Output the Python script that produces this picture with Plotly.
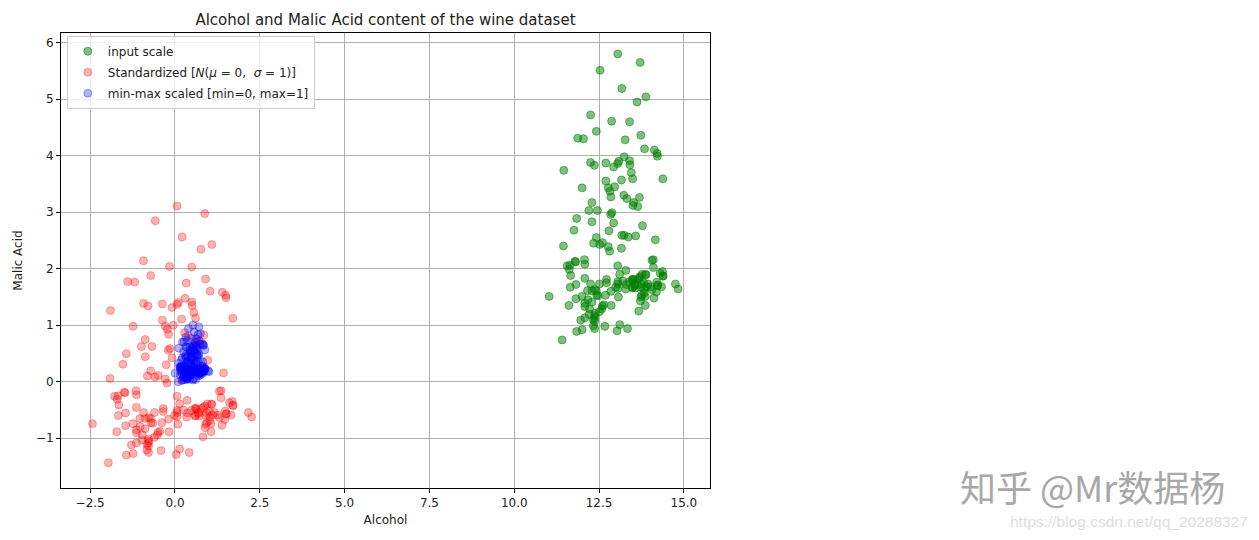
import numpy as np
import plotly.graph_objects as go

# Wine dataset: Alcohol and Malic acid (178 samples), as plotted in the reference
alcohol = [
    14.23, 13.2, 13.16, 14.37, 13.24, 14.2, 14.39, 14.06, 14.83, 13.86, 14.1, 14.12, 13.75, 14.75, 14.38,
    13.63, 14.3, 13.83, 14.19, 13.64, 14.06, 12.93, 13.71, 12.85, 13.5, 13.05, 13.39, 13.3, 13.87, 14.02,
    13.73, 13.58, 13.68, 13.76, 13.51, 13.48, 13.28, 13.05, 13.07, 14.22, 13.56, 13.41, 13.88, 13.24, 13.05,
    14.21, 14.38, 13.9, 14.1, 13.94, 13.05, 13.83, 13.82, 13.77, 13.74, 13.56, 14.22, 13.29, 13.72,
    12.37, 12.33, 12.64, 13.67, 12.37, 12.17, 12.37, 13.11, 12.37, 13.34, 12.21, 12.29, 13.86, 13.49, 12.99,
    11.96, 11.66, 13.03, 11.84, 12.33, 12.7, 12.0, 12.72, 12.08, 13.05, 11.84, 12.67, 12.16, 11.65, 11.64,
    12.08, 12.08, 12.0, 12.69, 12.29, 11.62, 12.47, 11.81, 12.29, 12.37, 12.29, 12.08, 12.6, 12.34, 11.82,
    12.51, 12.42, 12.25, 12.72, 12.22, 11.61, 11.46, 12.52, 11.76, 11.41, 12.08, 11.03, 11.82, 12.42, 12.77,
    12.0, 11.45, 11.56, 12.42, 13.05, 11.87, 12.07, 12.43, 11.79, 12.37, 12.04,
    12.86, 12.88, 12.81, 12.7, 12.51, 12.6, 12.25, 12.53, 13.49, 12.84, 12.93, 13.36, 13.52, 13.62, 12.25,
    13.16, 13.88, 12.87, 13.32, 13.08, 13.5, 12.79, 13.11, 13.23, 12.58, 13.17, 13.84, 12.45, 14.34, 13.48,
    12.36, 13.69, 12.85, 12.96, 13.78, 13.73, 13.45, 12.82, 13.58, 13.4, 12.2, 12.77, 14.16, 13.71, 13.4,
    13.27, 13.17, 14.13,
]
malic_acid = [
    1.71, 1.78, 2.36, 1.95, 2.59, 1.76, 1.87, 2.15, 1.64, 1.35, 2.16, 1.48, 1.73, 1.73, 1.87,
    1.81, 1.92, 1.57, 1.59, 3.1, 1.63, 3.8, 1.86, 1.6, 1.81, 2.05, 1.77, 1.72, 1.9, 1.68,
    1.5, 1.66, 1.83, 1.53, 1.8, 1.81, 1.64, 1.65, 1.5, 3.99, 1.71, 3.84, 1.89, 3.98, 1.77,
    4.04, 3.59, 1.68, 2.02, 1.73, 1.73, 1.65, 1.75, 1.9, 1.67, 1.73, 1.7, 1.97, 1.43,
    0.94, 1.1, 1.36, 1.25, 1.13, 1.45, 1.21, 1.01, 1.17, 0.94, 1.19, 1.61, 1.51, 1.66, 1.67,
    1.09, 1.88, 0.9, 2.89, 0.99, 3.87, 0.92, 1.81, 1.13, 3.86, 0.89, 0.98, 1.61, 1.67, 2.06,
    1.33, 1.83, 1.51, 1.53, 2.83, 1.99, 1.52, 2.12, 1.41, 1.07, 3.17, 2.08, 1.34, 2.45, 1.72,
    1.73, 2.55, 1.73, 1.75, 1.29, 1.35, 3.74, 2.43, 2.68, 0.74, 1.39, 1.51, 1.47, 1.61, 3.43,
    3.43, 2.4, 2.05, 4.43, 5.8, 4.31, 2.16, 1.53, 2.13, 1.63, 4.3,
    1.35, 2.99, 2.31, 3.55, 1.24, 2.46, 4.72, 5.51, 3.59, 2.96, 2.81, 2.56, 3.17, 4.95, 3.88,
    3.57, 5.04, 4.61, 3.24, 3.9, 3.12, 2.67, 1.9, 3.3, 1.29, 5.19, 4.12, 3.03, 1.68, 1.67,
    3.83, 3.26, 3.27, 3.45, 2.76, 4.36, 3.7, 3.37, 2.58, 4.6, 3.03, 2.39, 2.51, 5.65, 3.91,
    4.28, 2.59, 4.1,
]

series_names = [
    "input scale",
    "Standardized [<i>N</i>(<i>μ</i> = 0,  <i>σ</i> = 1)]",
    "min-max scaled [min=0, max=1]",
]
series_colors = ["rgba(0,128,0,0.5)", "rgba(255,0,0,0.3)", "rgba(0,0,255,0.3)"]

a = np.array(alcohol)
m = np.array(malic_acid)
# the two rescaled series are the dataset's standard transforms (as in the original chart)
a_std, m_std = (a - a.mean()) / a.std(), (m - m.mean()) / m.std()
a_mm, m_mm = (a - a.min()) / (a.max() - a.min()), (m - m.min()) / (m.max() - m.min())

xs = [a, a_std, a_mm]
ys = [m, m_std, m_mm]

fig = go.Figure()
for i in range(3):
    fig.add_trace(go.Scatter(
        x=xs[i], y=ys[i], mode="markers", name=series_names[i], legendgroup=str(i),
        marker=dict(size=8, color=series_colors[i], line=dict(width=1, color=series_colors[i])),
    ))

font = "DejaVu Sans, Arial, sans-serif"
axis_common = dict(
    showgrid=True, gridcolor="#b0b0b0", gridwidth=0.8, zeroline=False,
    showline=True, linecolor="black", linewidth=1, mirror=True,
    ticks="outside", ticklen=4, tickcolor="black", tickwidth=1,
    tickfont=dict(family=font, size=12, color="#222222"),
)

fig.update_layout(
    width=1259, height=540,
    margin=dict(l=61, r=549, t=33, b=52),
    paper_bgcolor="white", plot_bgcolor="white",
    font=dict(family=font, size=12, color="#222222"),
    title=dict(text="Alcohol and Malic Acid content of the wine dataset",
               x=0.5, xref="paper", xanchor="center", y=1 - 20 / 540, yanchor="middle",
               font=dict(family=font, size=15, color="#222222")),
    xaxis=dict(range=[-3.36, 15.77], tick0=-2.5, dtick=2.5, tickformat=".1f",
               title=dict(text="Alcohol", font=dict(family=font, size=12), standoff=6),
               **axis_common),
    yaxis=dict(range=[-1.88, 6.17], tick0=0, dtick=1,
               title=dict(text="Malic Acid", font=dict(family=font, size=12), standoff=10),
               **axis_common),
    legend=dict(x=0.009, y=0.994, xanchor="left", yanchor="top",
                bgcolor="rgba(255,255,255,0.8)", bordercolor="#cccccc", borderwidth=1,
                font=dict(family=font, size=12, color="#222222"), tracegroupgap=2),
    showlegend=True,
)

fig.add_annotation(text="知乎 @Mr数据杨", xref="paper", yref="paper",
                   x=(1227 - 61) / 649, y=(488 - 486) / 455, xanchor="right", yanchor="middle",
                   showarrow=False, font=dict(family="Noto Sans CJK SC", size=36, color="#a8a8a8"))
fig.add_annotation(text="https://blog.csdn.net/qq_20288327", xref="paper", yref="paper",
                   x=(1250 - 61) / 649, y=(488 - 521) / 455, xanchor="right", yanchor="middle",
                   showarrow=False, font=dict(family="Liberation Sans, Arial", size=15.5, color="#dedede"))

fig.write_html("out.html", config={"displayModeBar": False},
               post_script="document.body.style.margin='0px';")
